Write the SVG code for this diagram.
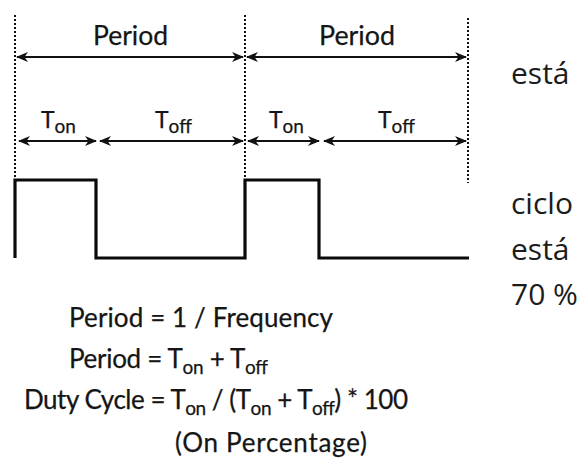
<svg xmlns="http://www.w3.org/2000/svg" width="582" height="462" viewBox="0 0 582 462">
<style>
.lbl{font-family:Lato,"Liberation Sans",sans-serif;fill:#151515;stroke:#151515;stroke-width:0.25}
.sub{font-size:19px}
.dot{stroke:#111;stroke-width:2;stroke-dasharray:2 2;fill:none}
.arr{stroke:#111;stroke-width:2;fill:none;marker-start:url(#ah);marker-end:url(#ah)}
.wave{stroke:#0a0a0a;stroke-width:3.2;fill:none;stroke-linejoin:miter}
.side{font-family:"Open Sans","Noto Sans",sans-serif;font-size:30px;fill:#1c1c1c}
</style>
<defs>
<marker id="ah" viewBox="0 0 12 10" refX="11" refY="5" markerWidth="12" markerHeight="10" markerUnits="userSpaceOnUse" orient="auto-start-reverse">
<path d="M0,0 L12,5 L0,10 L3.5,5 z" fill="#111"/>
</marker>
</defs>
<g id="guides">
<line class="dot" x1="15" y1="15" x2="15" y2="179"/>
<line class="dot" x1="245" y1="15" x2="245" y2="179"/>
<line class="dot" x1="468" y1="18" x2="468" y2="183"/>
</g>
<g id="connectors">
<line class="arr" x1="17" y1="57" x2="243" y2="57"/>
<line class="arr" x1="247" y1="57" x2="466" y2="57"/>
<line class="arr" x1="19" y1="141" x2="96" y2="141"/>
<line class="arr" x1="100" y1="141" x2="243" y2="141"/>
<line class="arr" x1="248" y1="141" x2="319" y2="141"/>
<line class="arr" x1="324" y1="141" x2="466" y2="141"/>
</g>
<g id="waveform">
<polyline class="wave" points="15,258 15,180 96,180 96,258 245,258 245,180 319,180 319,258 469,258"/>
</g>
<g id="period-labels">
<text class="lbl" x="93" y="45" font-size="26" textLength="75" lengthAdjust="spacingAndGlyphs">Period</text>
<text class="lbl" x="319" y="45" font-size="26" textLength="76" lengthAdjust="spacingAndGlyphs">Period</text>
</g>
<g id="t-labels">
<text class="lbl" x="41" y="128" font-size="23">T<tspan class="sub" dy="5">on</tspan></text>
<text class="lbl" x="155" y="128" font-size="23">T<tspan class="sub" dy="5">off</tspan></text>
<text class="lbl" x="269" y="128" font-size="23">T<tspan class="sub" dy="5">on</tspan></text>
<text class="lbl" x="378" y="128" font-size="23">T<tspan class="sub" dy="5">off</tspan></text>
</g>
<g id="formulas">
<text class="lbl" x="69" y="327" font-size="26" textLength="264">Period = 1 / Frequency</text>
<text class="lbl" x="69" y="368" font-size="26" textLength="199">Period = T<tspan class="sub" dy="6">on</tspan><tspan dy="-6"> + T</tspan><tspan class="sub" dy="6">off</tspan></text>
<text class="lbl" x="24" y="409" font-size="26" textLength="384">Duty Cycle = T<tspan class="sub" dy="6">on</tspan><tspan dy="-6"> / (T</tspan><tspan class="sub" dy="6">on</tspan><tspan dy="-6"> + T</tspan><tspan class="sub" dy="6">off</tspan><tspan dy="-6">) * 100</tspan></text>
<text class="lbl" x="175" y="452" font-size="26" textLength="192">(On Percentage)</text>
</g>
<g id="side-text">
<text class="side" x="511" y="84">está</text>
<text class="side" x="511" y="214">ciclo</text>
<text class="side" x="511" y="260">está</text>
<text class="side" x="511" y="305">70 %</text>
</g>
</svg>
